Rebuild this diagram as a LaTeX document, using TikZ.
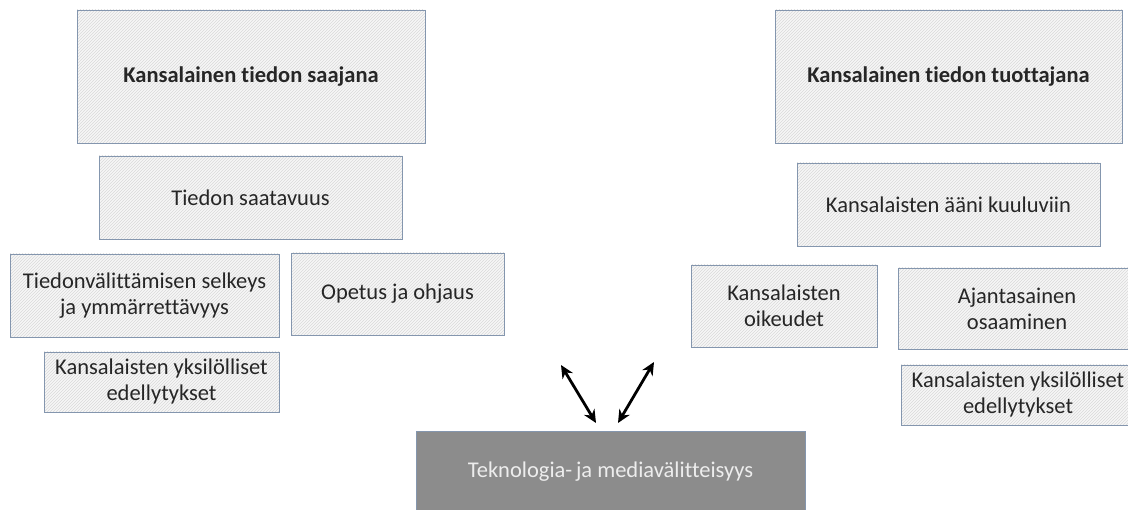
\documentclass[tikz,border=0pt]{standalone}
\usepackage{fontspec}
\setmainfont{Carlito}[Ligatures=NoCommon]
\usetikzlibrary{patterns,arrows.meta}

\definecolor{boxline}{HTML}{8496AE}
\definecolor{hatch}{HTML}{D9D9D9}
\definecolor{boxfill}{HTML}{F7F7F7}
\definecolor{darkbox}{HTML}{8C8C8C}
\definecolor{darktext}{HTML}{EDEDED}

\begin{document}
\begin{tikzpicture}[x=1pt, y=-1pt,
    box/.style={draw=boxline, line width=0.9pt, preaction={fill=boxfill},
        pattern=north east lines, pattern color=hatch,
        inner sep=0pt, align=center, text=black!85,
        font=\fontsize{22.5}{26}\selectfont},
    headbox/.style={box, font=\fontsize{22.5}{26}\selectfont\bfseries},
    techbox/.style={draw=boxline, line width=0.6pt, fill=darkbox, inner sep=0pt,
        text=darktext, font=\fontsize{22.5}{26}\selectfont},
    link/.style={{Stealth[length=13pt,width=12pt]}-{Stealth[length=13pt,width=12pt]}, line width=2.8pt}]

        % frame
        \useasboundingbox (0,0) rectangle (1128,510);

        % receiver side
        \node[headbox, minimum width=348, minimum height=133] (saaja) at (251,76.5) {Kansalainen tiedon saajana};
        \node[box, minimum width=303, minimum height=83] (saatavuus) at (250.5,197.5) {Tiedon saatavuus};
        \node[box, minimum width=269, minimum height=83] (selkeys) at (144.5,295.5) {Tiedonvälittämisen selkeys\\ja ymmärrettävyys};
        \node[box, minimum width=213, minimum height=82] (opetus) at (397.5,294) {Opetus ja ohjaus};
        \node[box, minimum width=235, minimum height=60] (yksvas) at (161.5,382) {Kansalaisten yksilölliset\\edellytykset};

        % producer side
        \node[headbox, minimum width=347, minimum height=133] (tuottaja) at (948.5,76.5) {Kansalainen tiedon tuottajana};
        \node[box, minimum width=303, minimum height=83] (aani) at (948.5,204.5) {Kansalaisten ääni kuuluviin};
        \node[box, minimum width=186, minimum height=82] (oikeudet) at (784,306) {Kansalaisten\\oikeudet};
        \node[box, minimum width=238, minimum height=81] (osaaminen) at (1017,308.5) {Ajantasainen\\osaaminen};
        \node[box, minimum width=234, minimum height=60] (yksoik) at (1018,395) {Kansalaisten yksilölliset\\edellytykset};

        % technology
        \node[techbox, minimum width=389, minimum height=82] (tekno) at (610.5,472) {Teknologia-\,ja mediavälitteisyys};

        % arrows
        \coordinate (vasyla) at (561,365);
        \coordinate (vasala) at (596,423);
        \coordinate (oikala) at (618,423);
        \coordinate (oikyla) at (654,362);
        \draw[link] (vasyla) -- (vasala);
        \draw[link] (oikala) -- (oikyla);
    \end{tikzpicture}
\end{document}
